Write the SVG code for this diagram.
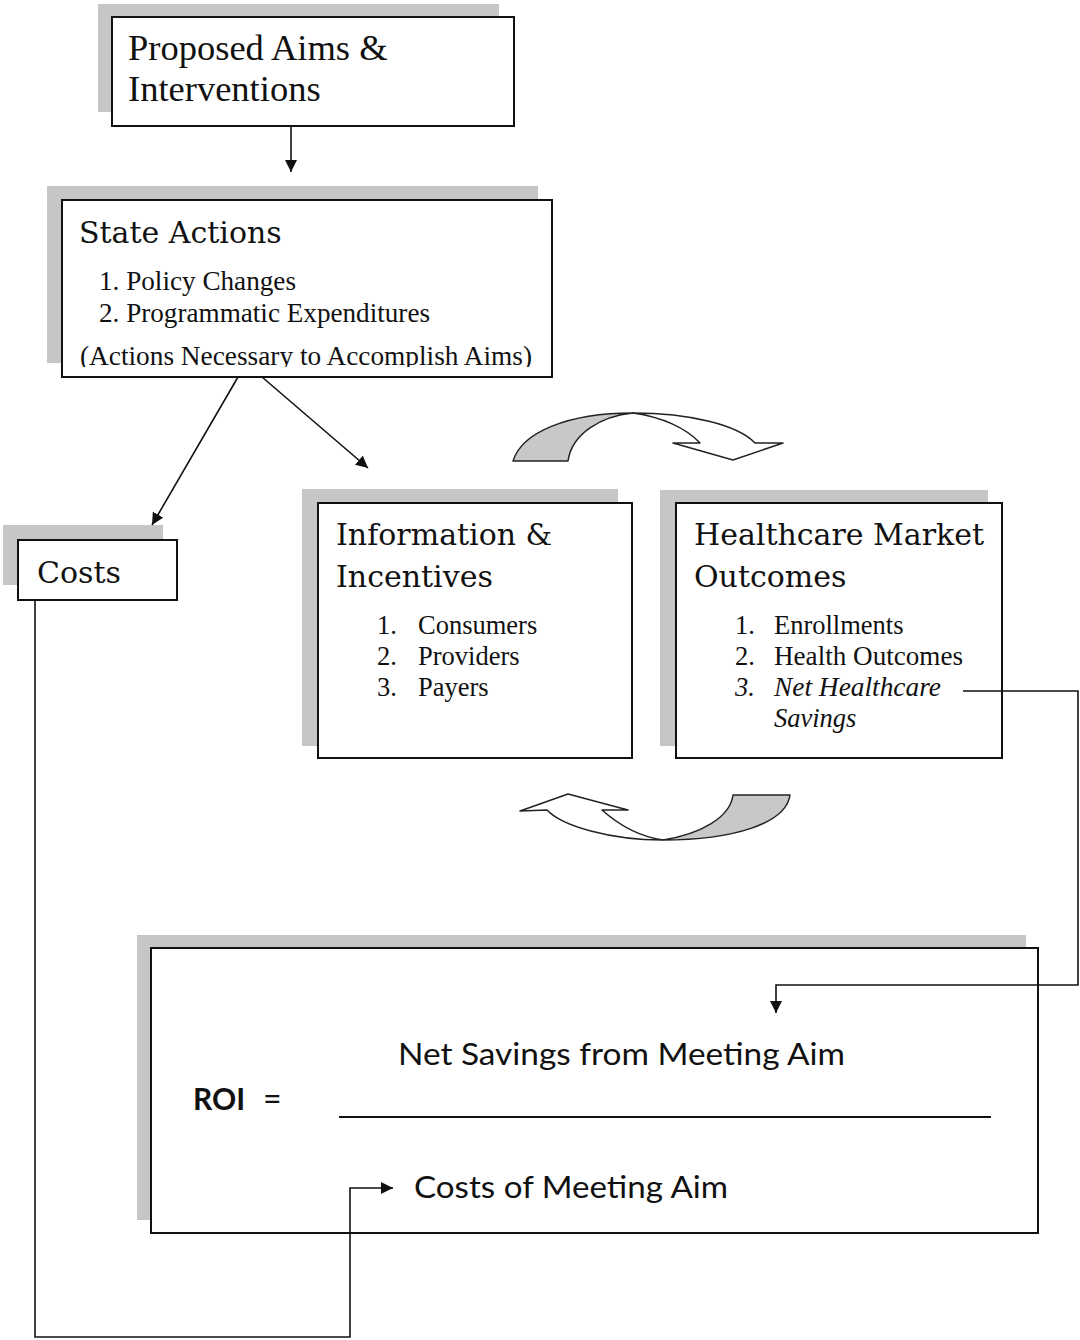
<svg xmlns="http://www.w3.org/2000/svg" width="1080" height="1340" viewBox="0 0 1080 1340">
<style>
.shadow{fill:#c6c6c6;}
.box{fill:#fff;stroke:#111;stroke-width:2;}
.title{font-family:"DejaVu Serif","Liberation Serif",serif;font-size:30px;fill:#111;}
.ser{font-family:"Liberation Serif","Times New Roman",serif;fill:#111;}
.item{font-family:"Liberation Serif","Times New Roman",serif;font-size:26.5px;fill:#111;}
.cal{font-family:Lato,"Open Sans",sans-serif;fill:#111;}
.conn{fill:none;stroke:#111;stroke-width:1.6;}
.curve{stroke:#222;stroke-width:1.5;stroke-linejoin:round;}
</style>
<defs>
<marker id="ah" markerUnits="userSpaceOnUse" markerWidth="14" markerHeight="12" refX="12" refY="6" orient="auto">
<path d="M0,0 L12,6 L0,12 Z" fill="#111"/>
</marker>
<clipPath id="clipSA"><rect x="62" y="200" width="490" height="167"/></clipPath>
</defs>
<rect width="1080" height="1340" fill="#fff"/>

<g id="node-proposed">
<rect class="shadow" x="98" y="4" width="401" height="108"/>
<rect class="box" x="112" y="17" width="402" height="109"/>
<text class="ser" font-size="36.5" x="128" y="60">Proposed Aims &amp;</text>
<text class="ser" font-size="36.5" x="128" y="101">Interventions</text>
</g>

<g id="node-state-actions">
<rect class="shadow" x="47" y="186" width="491" height="177"/>
<rect class="box" x="62" y="200" width="490" height="177"/>
<text class="title" x="79" y="243">State Actions</text>
<text class="item" x="99" y="290" textLength="197" lengthAdjust="spacingAndGlyphs">1. Policy Changes</text>
<text class="item" x="99" y="322" textLength="331" lengthAdjust="spacingAndGlyphs">2. Programmatic Expenditures</text>
<text class="item" x="80" y="365" font-size="27" textLength="452" lengthAdjust="spacingAndGlyphs" clip-path="url(#clipSA)">(Actions Necessary to Accomplish Aims)</text>
</g>

<g id="node-costs">
<rect class="shadow" x="3" y="525" width="160" height="60"/>
<rect class="box" x="18" y="540" width="159" height="60"/>
<text class="title" x="37" y="583">Costs</text>
</g>

<g id="node-information">
<rect class="shadow" x="302" y="489" width="316" height="257"/>
<rect class="box" x="318" y="503" width="314" height="255"/>
<text class="title" x="336" y="545">Information &amp;</text>
<text class="title" x="336" y="587">Incentives</text>
<text class="item" x="377" y="634">1.</text><text class="item" x="418" y="634">Consumers</text>
<text class="item" x="377" y="665">2.</text><text class="item" x="418" y="665">Providers</text>
<text class="item" x="377" y="696">3.</text><text class="item" x="418" y="696">Payers</text>
</g>

<g id="node-healthcare">
<rect class="shadow" x="660" y="490" width="328" height="256"/>
<rect class="box" x="676" y="503" width="326" height="255"/>
<text class="title" x="694" y="545">Healthcare Market</text>
<text class="title" x="694" y="587">Outcomes</text>
<text class="item" x="735" y="634">1.</text><text class="item" x="774" y="634">Enrollments</text>
<text class="item" x="735" y="665">2.</text><text class="item" x="774" y="665" textLength="189" lengthAdjust="spacingAndGlyphs">Health Outcomes</text>
<text class="item" x="735" y="696" font-style="italic">3.</text><text class="item" x="774" y="696" font-style="italic" textLength="167" lengthAdjust="spacingAndGlyphs">Net Healthcare</text>
<text class="item" x="774" y="727" font-style="italic">Savings</text>
</g>

<g id="node-roi">
<rect class="shadow" x="137" y="935" width="889" height="285"/>
<rect class="box" x="151" y="948" width="887" height="285"/>
<text class="cal" x="193" y="1110" font-size="30" font-weight="bold">ROI</text>
<text class="cal" x="263" y="1110" font-size="32">=</text>
<text class="cal" x="398" y="1065" font-size="31" textLength="447" lengthAdjust="spacingAndGlyphs">Net Savings from Meeting Aim</text>
<line x1="339" y1="1117" x2="991" y2="1117" stroke="#111" stroke-width="2"/>
<text class="cal" x="414" y="1198" font-size="31" textLength="314" lengthAdjust="spacingAndGlyphs">Costs of Meeting Aim</text>
</g>

<g id="cycle-arrows">
<path class="curve" fill="#c8c8c8" d="M513,461 C522,432 568,413 633,413 C602,416 572,433 568,461 Z"/>
<path class="curve" fill="#fff" d="M633,413 C690,413 738,425 755,443 L783,443 L733,460 L673,443 L700,443 C686,428 662,417 633,413 Z"/>
<path class="curve" fill="#c8c8c8" d="M790,795 C786,824 732,840 663,840 C700,834 730,818 733,795 Z"/>
<path class="curve" fill="#fff" d="M663,840 C610,840 562,826 547,810 L520,811 L568,794 L628,810 L602,810 C620,826 642,837 663,840 Z"/>
</g>

<g id="connectors">
<line class="conn" x1="291" y1="126" x2="291" y2="172" marker-end="url(#ah)"/>
<line class="conn" x1="238" y1="377" x2="152" y2="525" marker-end="url(#ah)"/>
<line class="conn" x1="262" y1="377" x2="368" y2="468" marker-end="url(#ah)"/>
<polyline class="conn" points="963,691 1078,691 1078,985 776,985 776,1013" marker-end="url(#ah)"/>
<polyline class="conn" points="35,600 35,1337 350,1337 350,1188 393,1188" marker-end="url(#ah)"/>
</g>
</svg>
